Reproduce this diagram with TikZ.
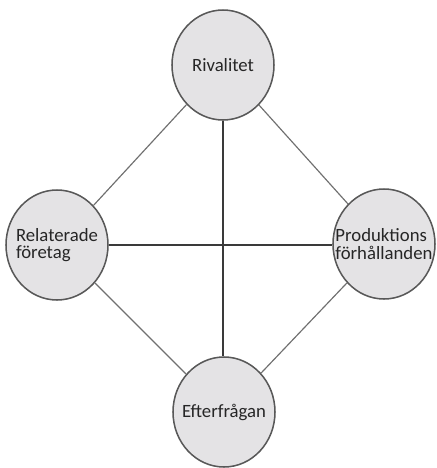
\documentclass[tikz,border=0pt]{standalone}
\usepackage{fontspec}
\setmainfont{Carlito}
\usepackage{xcolor}
\usetikzlibrary{shapes.geometric}
\definecolor{bubble}{HTML}{E4E3E5}
\definecolor{rim}{HTML}{585858}
\definecolor{linegray}{HTML}{707070}
\definecolor{crossgray}{HTML}{3A3A3A}
\definecolor{ink}{HTML}{262626}
\tikzset{
    factor/.style={ellipse,draw=rim,line width=1.3pt,fill=bubble,minimum width=3.06cm,minimum height=3.3cm,inner sep=-0.5cm,align=left,text=ink,font=\fontsize{16}{15}\selectfont},
    spoke/.style={draw=linegray,line width=1pt},
    crossline/.style={draw=crossgray,line width=1.1pt}
}

\begin{document}
\begin{tikzpicture}[x=0.03cm,y=-0.03cm]
        \useasboundingbox (0,0) rectangle (436,468);
        \node[factor] (riv) at (223,65) {Rivalitet};
        \node[factor] (rel) at (57,245) {Relaterade\\företag};
        \node[factor] (prod) at (384,244) {Produktions\\förhållanden};
        \node[factor] (eft) at (224,412) {Efterfrågan};

        \draw[spoke] (riv)--(rel);
        \draw[spoke] (riv)--(prod);
        \draw[spoke] (eft)--(rel);
        \draw[spoke] (eft)--(prod);
        \draw[crossline] (riv.south)--(riv.south |- eft.north);
        \draw[crossline] (rel.east)--(rel.east -| prod.west);
    \end{tikzpicture}
\end{document}
